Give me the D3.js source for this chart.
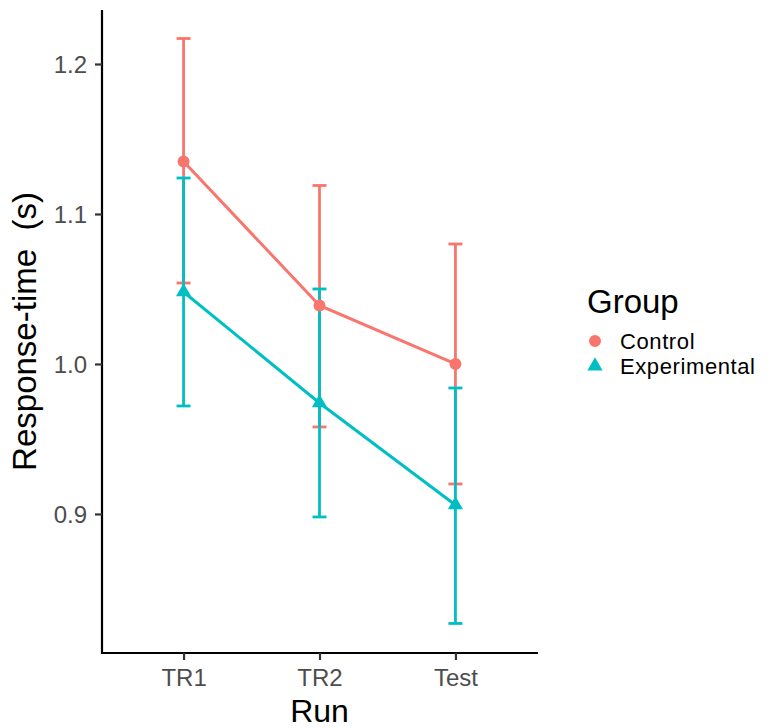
<!DOCTYPE html>
<meta charset="utf-8">
<script src="https://d3js.org/d3.v7.min.js"></script>
<style>
  body { margin: 0; background: #fff; }
  text { font-family: "Liberation Sans", Arial, sans-serif; }
</style>
<div id="chart"></div>
<script>
// data
var runs = ["TR1", "TR2", "Test"];
var groups = ["Control", "Experimental"];
var controlMean = [1.135, 1.039, 1.000];
var controlLow  = [1.054, 0.958, 0.920];
var controlHigh = [1.217, 1.119, 1.080];
var expMean = [1.048, 0.974, 0.906];
var expLow  = [0.972, 0.898, 0.827];
var expHigh = [1.124, 1.050, 0.984];
var yTicks = [0.9, 1.0, 1.1, 1.2];
var colors = ["#F8766D", "#00BFC4"];

var series = [
  {name: groups[0], mean: controlMean, low: controlLow, high: controlHigh, color: colors[0], shape: d3.symbolCircle},
  {name: groups[1], mean: expMean, low: expLow, high: expHigh, color: colors[1], shape: d3.symbolTriangle}
];

var W = 772, H = 728;
var margin = {top: 10, left: 102, right: 235, bottom: 75};

var svg = d3.select("#chart").append("svg")
  .attr("width", W).attr("height", H);

var x = d3.scalePoint()
  .domain(runs)
  .range([margin.left, W - margin.right])
  .padding(0.6);

var y = d3.scaleLinear()
  .domain([0.8073, 1.236])
  .range([H - margin.bottom, margin.top]);

// axes
var xAxis = svg.append("g")
  .attr("transform", "translate(0," + (H - margin.bottom) + ")")
  .call(d3.axisBottom(x).tickSize(7).tickPadding(5));
var yAxis = svg.append("g")
  .attr("transform", "translate(" + margin.left + ",0)")
  .call(d3.axisLeft(y).tickValues(yTicks).tickFormat(d3.format(".1f")).tickSize(7).tickPadding(8));

[xAxis, yAxis].forEach(function(a) {
  a.attr("font-size", null).attr("font-family", null);
  a.select(".domain").attr("stroke", "#000").attr("stroke-width", 2.2);
  a.selectAll(".tick line").attr("stroke", "#333").attr("stroke-width", 2.2);
  a.selectAll(".tick text").attr("fill", "#4d4d4d").style("font-size", "24px");
});
xAxis.selectAll(".tick text").attr("dy", null).attr("y", 33);
yAxis.selectAll(".tick text").attr("dy", "0.35em");
// extend domain lines to the corner like ggplot
xAxis.select(".domain").attr("d", "M" + (margin.left - 1) + ",0H" + (W - margin.right + 1));
yAxis.select(".domain").attr("d", "M0," + margin.top + "V" + (H - margin.bottom + 1));

// axis titles
svg.append("text")
  .attr("x", x.range()[0] + (x.range()[1] - x.range()[0]) / 2)
  .attr("y", 722)
  .attr("text-anchor", "middle")
  .style("font-size", "32px")
  .text("Run");

svg.append("text")
  .attr("transform", "translate(36," + ((margin.top + H - margin.bottom) / 2) + ") rotate(-90)")
  .attr("text-anchor", "middle")
  .style("font-size", "33px")
  .text("Response-time\u00a0\u00a0(s)");

// error bars, lines, points
var cap = 7;
series.forEach(function(s) {
  var g = svg.append("g");
  runs.forEach(function(r, i) {
    var cx = x(r);
    g.append("line").attr("x1", cx).attr("x2", cx)
      .attr("y1", y(s.low[i])).attr("y2", y(s.high[i]))
      .attr("stroke", s.color).attr("stroke-width", 2.8);
    [s.low[i], s.high[i]].forEach(function(v) {
      g.append("line").attr("x1", cx - cap).attr("x2", cx + cap)
        .attr("y1", y(v)).attr("y2", y(v))
        .attr("stroke", s.color).attr("stroke-width", 2.8);
    });
  });
});

function symSize(shape) { return shape === d3.symbolCircle ? 113 : 100; }

series.forEach(function(s) {
  var line = d3.line()
    .x(function(d, i) { return x(runs[i]); })
    .y(function(d) { return y(d); });
  svg.append("path").datum(s.mean)
    .attr("d", line)
    .attr("fill", "none")
    .attr("stroke", s.color)
    .attr("stroke-width", 3);
  svg.selectAll(null).data(s.mean).enter().append("path")
    .attr("d", d3.symbol().type(s.shape).size(symSize(s.shape)))
    .attr("transform", function(d, i) { return "translate(" + x(runs[i]) + "," + y(d) + ")"; })
    .attr("fill", s.color);
});

// legend
var leg = svg.append("g").attr("transform", "translate(587,0)");
leg.append("text").attr("x", 0).attr("y", 313)
  .style("font-size", "33px").text("Group");
series.forEach(function(s, i) {
  var cy = 341 + i * 25;
  leg.append("path")
    .attr("d", d3.symbol().type(s.shape).size(symSize(s.shape)))
    .attr("transform", "translate(8," + cy + ")")
    .attr("fill", s.color);
  leg.append("text").attr("x", 33).attr("y", cy + 8)
    .style("font-size", "22px")
    .style("letter-spacing", "0.6px")
    .text(s.name);
});
</script>
